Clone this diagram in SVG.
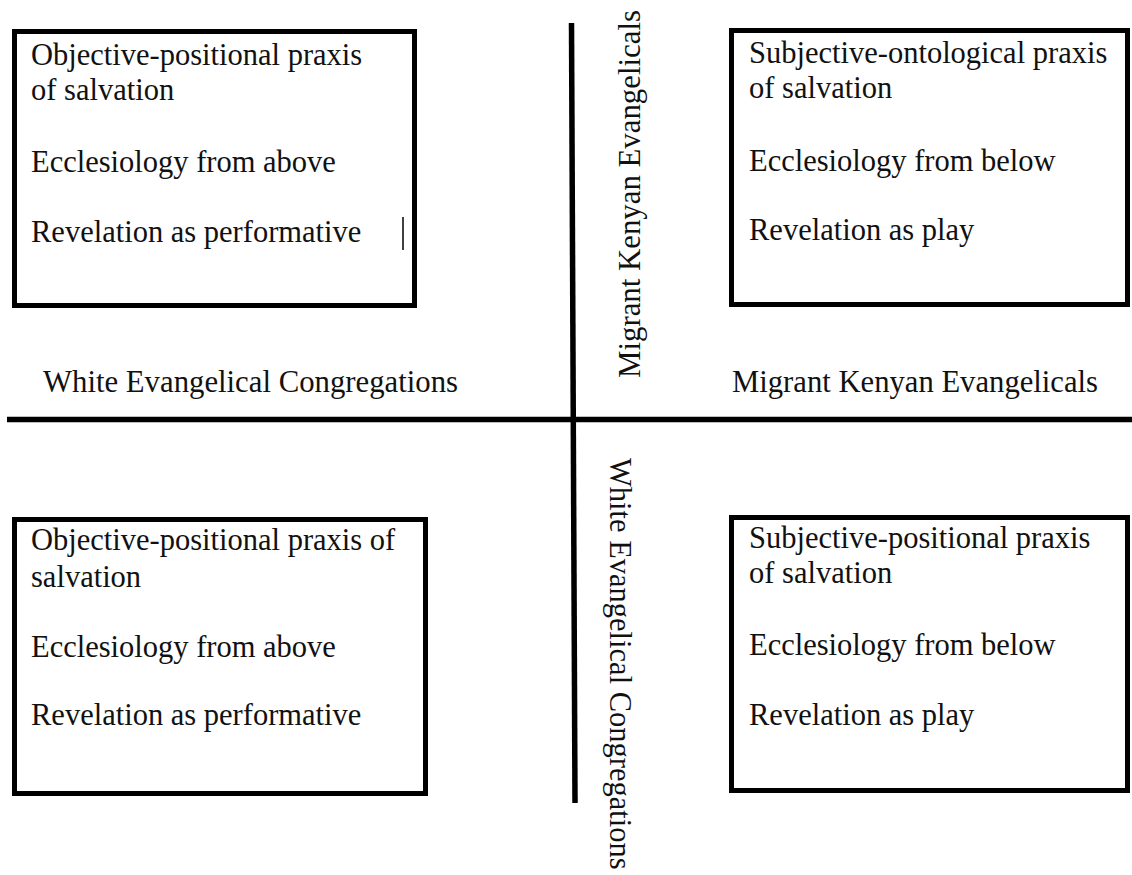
<svg xmlns="http://www.w3.org/2000/svg" width="1132" height="875" viewBox="0 0 1132 875">
<style>
  .box { fill: #fff; stroke: #000; stroke-width: 5; }
  .t { font-family: "Liberation Serif", "Times New Roman", serif; font-size: 30.5px; fill: #111; }
  .ax { stroke: #000; stroke-width: 5.5; fill: none; }
</style>
<rect width="1132" height="875" fill="#fff"/>
<g id="axes">
  <line class="ax" x1="7" y1="419.5" x2="1132" y2="419.5"/>
  <line class="ax" x1="571.5" y1="23" x2="575" y2="803"/>
</g>
<g id="label-top-vertical">
  <text class="t" transform="translate(640,378) rotate(-90)" textLength="368" lengthAdjust="spacingAndGlyphs">Migrant Kenyan Evangelicals</text>
</g>
<g id="label-bottom-vertical">
  <text class="t" transform="translate(610,458) rotate(90)">White Evangelical Congregations</text>
</g>
<g id="label-left">
  <text class="t" x="43" y="392" font-size="31" textLength="415" lengthAdjust="spacingAndGlyphs">White Evangelical Congregations</text>
</g>
<g id="label-right">
  <text class="t" x="732" y="392" font-size="31" textLength="366" lengthAdjust="spacingAndGlyphs">Migrant Kenyan Evangelicals</text>
</g>
<g id="box-top-left">
  <rect class="box" x="14.5" y="31.5" width="400" height="274"/>
  <text class="t" x="31" y="65">Objective-positional praxis</text>
  <text class="t" x="31" y="100">of salvation</text>
  <text class="t" x="31" y="172">Ecclesiology from above</text>
  <text class="t" x="31" y="242">Revelation as performative</text>
  <line x1="403" y1="217" x2="403" y2="250" stroke="#000" stroke-width="1.5"/>
</g>
<g id="box-top-right">
  <rect class="box" x="731.5" y="30.5" width="396" height="274"/>
  <text class="t" x="749" y="63">Subjective-ontological praxis</text>
  <text class="t" x="749" y="98">of salvation</text>
  <text class="t" x="749" y="171">Ecclesiology from below</text>
  <text class="t" x="749" y="240">Revelation as play</text>
</g>
<g id="box-bottom-left">
  <rect class="box" x="14.5" y="519.5" width="411" height="274"/>
  <text class="t" x="31" y="550">Objective-positional praxis of</text>
  <text class="t" x="31" y="587">salvation</text>
  <text class="t" x="31" y="657">Ecclesiology from above</text>
  <text class="t" x="31" y="725">Revelation as performative</text>
</g>
<g id="box-bottom-right">
  <rect class="box" x="731.5" y="517.5" width="396" height="273"/>
  <text class="t" x="749" y="548">Subjective-positional praxis</text>
  <text class="t" x="749" y="583">of salvation</text>
  <text class="t" x="749" y="655">Ecclesiology from below</text>
  <text class="t" x="749" y="725">Revelation as play</text>
</g>
</svg>
